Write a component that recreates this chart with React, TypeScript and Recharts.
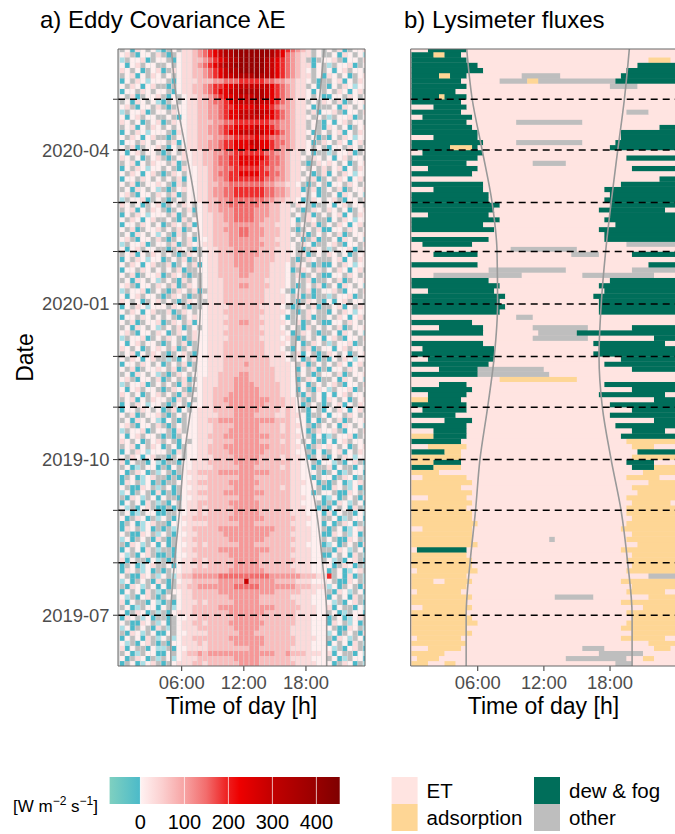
import React from "react";
import {
  ReferenceArea,
  ReferenceLine,
  Scatter,
  ScatterChart,
  XAxis,
  YAxis,
} from "recharts";

const FONT = '"Liberation Sans", Arial, Helvetica, sans-serif';

// days since 2019-06-01 at every month start (last = 2020-06-01)
const monthStarts = [0, 30, 61, 92, 122, 153, 183, 214, 245, 274, 305, 335, 366];
const monthLines = [30, 61, 92, 122, 153, 183, 214, 245, 274, 305, 335];
const dateLabels: Record<number, string> = {
  30: "2019-07",
  122: "2019-10",
  214: "2020-01",
  305: "2020-04",
};
const hourTicks = [6, 12, 18];
const hourLabels: Record<number, string> = { 6: "06:00", 12: "12:00", 18: "18:00" };

// grey sunrise / sunset curves
const sunDays = [0, 30, 61, 92, 122, 153, 183, 214, 245, 274, 305, 335, 364.7];
const sunriseHours = [4.95, 4.95, 5.3, 5.8, 6.2, 6.9, 7.5, 7.8, 7.75, 7.3, 6.4, 5.5, 5.0];
const sunsetHours = [20.0, 20.0, 19.6, 19.0, 18.1, 17.3, 17.0, 17.2, 17.6, 18.1, 18.7, 19.3, 19.75];

// a) eddy covariance, 48 half hours per row, 10 rows per month (oldest first)
// n/m negative, . missing, 0-9 rising lambda E
const ecCodes: Record<string, number> = {
  n: -40, m: -8, "0": 5, "1": 35, "2": 70, "3": 110, "4": 150,
  "5": 190, "6": 240, "7": 290, "8": 340, "9": 400,
};

const ecJun2019 = [
  "n.0nm01. n.011122 12222223 33322222 22111100 0n.10n.m",
  "0n.10n.m .0m01112 22222233 33322222 21111000 .0nm.00n",
  ".0nm.00n n0.01223 23333333 33333322 32221110 1n0..n0m",
  "1n0..n0m m.n00111 12222222 23322222 21111000 0m.n01.n",
  "0m.n01.n .n001112 12222233 33332222 22111000 n0.0n1.m",
  "n0.0n1.m 0.m01122 22222333 33332222 22111100 .n10m.0n",
  ".n10m.0n n0.00111 12222223 33222222 21111000 m0n.0.n1",
  "m0n.0.n1 .m.01112 22222233 33322222 21111000 0.nn10.m",
  "0.nn10.m 0n.01122 12222333 33332222 22111000 n10.m0n.",
  "n10.m0n. .n.00112 22222233 33322222 22111000 n.0nm01.",
];
const ecJul2019 = [
  "0n.10n.m .n011122 22222333 33332222 22111100 .0nm.00n",
  ".0nm.00n 0.m01122 22233333 33333322 22211100 1n0..n0m",
  "1n0..n0m n.n01112 12222233 33322222 22111000 0m.n01.n",
  "0m.n01.n .0.01122 22222333 33322222 21111000 n0.0n1.m",
  "n0.0n1.m n.001122 22233333 33333322 22211100 .n10m.0n",
  ".n10m.0n 0n.11223 33333344 44433333 33222111 m0n.0.n1",
  "m0n.0.n1 .n.01122 22233333 73333322 22111000 0.nn10.m",
  "0.nn10.m 0.m12233 33344444 44444333 33322211 5.0n1n.m",
  "n10.m0n. n.001122 22222333 33332222 22111000 n.0nm01.",
  "n.0nm01. .0n01112 12222233 33322222 21111000 0n.10n.m",
];
const ecAug2019 = [
  "1n0..n0m .n.01122 12222233 33322222 2211100. 0m.n01.n",
  "0m.n01.n n.n00112 22222333 33322222 2111100n n0.0n1.m",
  "n0.0n1.m ..n01122 22233333 33333222 2211100. .n10m.0n",
  ".n10m.0n 0n.00112 12222223 33222222 2111000n m0n.0.n1",
  "m0n.0.n1 .n.01122 22222333 33332222 2211100. 0.nn10.m",
  "0.nn10.m 0.n00112 22223333 33333222 2111100n n10.m0n.",
  "n10.m0n. n.m01122 22233333 33333322 2211100. n.0nm01.",
  "n.0nm01. .n000111 12222223 33222222 2111000n 0n.10n.m",
  "0n.10n.m 0.n01122 22222333 33332222 2211100. .0nm.00n",
  ".0nm.00n n..00112 12222233 33322222 2111000n 1n0..n0m",
];
const ecSep2019 = [
  "0m.n01.n n.n.0112 12222233 33322222 211100n. n0.0n1.m",
  "n0.0n1.m .n0.0112 22222333 33322222 211000.n .n10m.0n",
  ".n10m.0n 0..n0011 12222223 33222222 2111000n m0n.0.n1",
  "m0n.0.n1 n.n.0112 22223333 33332222 21100n.0 0.nn10.m",
  "0.nn10.m .0n.0011 12222233 33222221 211000.n n10.m0n.",
  "n10.m0n. n..00112 22222333 33322222 211100n. n.0nm01.",
  "n.0nm01. .n.n0011 12222223 33222222 21100n.0 0n.10n.m",
  "0n.10n.m 0.n.0112 22233333 33333222 211000.n .0nm.00n",
  ".0nm.00n .n0.0011 11222223 33222221 21100n.. 1n0..n0m",
  "1n0..n0m n..n0011 12222233 33322222 21100.n0 0m.n01.n",
];
const ecOct2019 = [
  "0.10n01. .n.0.001 11222233 33322221 2110n.0. n0.10m00",
  "n0.10m00 0.n1.001 12222333 33332222 2100.n0n .01n0.10",
  ".01n0.10 n.0n.001 12223333 33333222 2110n.10 10.0n.01",
  "10.0n.01 .0.n0.01 11222233 33322221 210.0n.n 0n01.00.",
  "0n01.00. n.n.0001 12223333 33333222 2110.n0n m.001n.0",
  "m.001n.0 0.n1.001 11222333 33322221 2100n.10 01.n00.1",
  "01.n00.1 .n.0.001 11222233 33322221 2110.n.0 .0n10.0m",
  ".0n10.0m n0.n.001 12233333 33333322 2100n0n. 0.1n.001",
  "0.1n.001 .n.0.001 11122233 33222211 2110n..0 n00.10.0",
  "n00.10.0 n.1n0.01 11222233 33322221 210.n0.n 0.10n01.",
];
const ecNov2019 = [
  "n0.10m00 .n.0.n00 11222333 33332222 110n.0.n .01n0.10",
  ".01n0.10 0.n1.0.0 11223333 33333222 110.n.0n 10.0n.01",
  "10.0n.01 .0.n1.00 11222333 33322221 10.n1.0n 0n01.00.",
  "0n01.00. n.10.n.0 11222233 33322221 10n0.n10 m.001n.0",
  "m.001n.0 .0.n1.00 11122233 33222221 10.0n.0. 01.n00.1",
  "01.n00.1 n.0.1n.0 11122233 32222211 10n.10n. .0n10.0m",
  ".0n10.0m .n.10.00 01122223 32222211 10.0.n.0 0.1n.001",
  "0.1n.001 0.1n.0.0 01112222 22222211 10n0.1n. n00.10.0",
  "n00.10.0 n.0.1n.0 01112222 32222111 10.1n.0. 0.10n01.",
  "0.10n01. .m.n0.10 01112222 22222111 0.0n.1n. n0.10m00",
];
const ecDec2019 = [
  ".01n0.10 .n.01.n0 01112222 22221111 0.1n0.n. 10.0n.01",
  "10.0n.01 0.1n.0.0 01112222 22221110 .n0.1n.0 0n01.00.",
  "0n01.00. n.0.1n.0 01112222 22221111 0.0n.10. m.001n.0",
  "m.001n.0 .10.n.10 01111222 22211110 1.n.0.0n 01.n00.1",
  "01.n00.1 0n.10.10 01112222 22221111 0n.10.n. .0n10.0m",
  ".0n10.0m .0.1n.0. 01111222 22211110 .0.n1.0. 0.1n.001",
  "0.1n.001 n.10.1n0 01112223 32221111 0.1n.0.n n00.10.0",
  "n00.10.0 .0.n.010 01111222 22211110 n.0.1n.. 0.10n01.",
  "0.10n01. .1n.10.0 01112222 22221111 0.n.10.. n0.10m00",
  "n0.10m00 0.10.n.. 01111222 22211110 .n.0.1n. .01n0.10",
];
const ecJan2020 = [
  "10.0n.01 .0.n.10. .1112222 22221111 0.n.10.n 0n01.00.",
  "0n01.00. n.10.n.. 01112222 22221111 0.1n.n.. m.001n.0",
  "m.001n.0 .n.10.1n .1112222 22221110 .n0.1n.0 01.n00.1",
  "01.n00.1 0.1n.10. 01112223 32222111 0.n.0.1n .0n10.0m",
  ".0n10.0m .0.n1.0. 01112222 22221111 0.0.1n.. 0.1n.001",
  "0.1n.001 n.10.n.. 01122223 32222111 0.1n.0.n n00.10.0",
  "n00.10.0 .0.1n..0 01122223 33222111 0n.10.1. 0.10n01.",
  "0.10n01. .1n.0.1n 01122233 33222111 0.10.n.n n0.10m00",
  "n0.10m00 n.0.1n.0 01122233 33222211 1.n.10.. .01n0.10",
  ".01n0.10 .0.n.10. 01122233 33322211 10.1n.0. 10.0n.01",
];
const ecFeb2020 = [
  "0n01.00. .n.10.n. 01122233 33322211 10.n.10. m.001n.0",
  "m.001n.0 0.1n.100 11222333 33332221 10.10n.. 01.n00.1",
  "01.n00.1 .n.0.1n0 01222333 33322211 1.0n.1n. .0n10.0m",
  ".0n10.0m 0.n1.0.0 11222334 43332221 10.1n.0. 0.1n.001",
  "0.1n.001 .0.1n.00 11223334 43332221 1.n.0.1n n00.10.0",
  "n00.10.0 n.10.1n0 11222333 33322211 10.0.1n. 0.10n01.",
  "0.10n01. .0.n1.00 11223344 44332221 10n.10.. n0.10m00",
  "n0.10m00 0.1n.0.0 11223344 44333221 1.0.1n.0 .01n0.10",
  ".01n0.10 .n.0.1n0 12233344 44333221 10.n.10. 10.0n.01",
  "10.0n.01 n.0.10.0 12233444 44433221 1.10.n.. 0n01.00.",
];
const ecMar2020 = [
  "m.001n.0 .n.0.001 12233444 44443322 110n.10. 01.n00.1",
  "01.n00.1 0.1n.001 12334455 55554433 2110.0n. .0n10.0m",
  ".0n10.0m .n.01001 12334455 55554433 211n.1n. 0.1n.001",
  "0.1n.001 0.n1.001 12233444 44443322 110.n.0. n00.10.0",
  "n00.10.0 .0.1n001 12334555 55554433 2110.1n. 0.10n01.",
  "0.10n01. n.10.001 12344556 66655443 211.0n.1 n0.10m00",
  "n0.10m00 .0.n1001 12334455 55554433 2110.0.1 .01n0.10",
  ".01n0.10 0.1n.011 22344556 66655443 211.n.10 10.0n.01",
  "10.0n.01 .n.01011 22344556 66665443 2110.10. 0n01.00.",
  "0n01.00. n.0.1011 22334455 55554433 211.0n.. m.001n.0",
];
const ecApr2020 = [
  "0.1n.001 .n0.0112 23345566 66766543 32110.0. n00.10.0",
  "n00.10.0 0.1n0112 23345566 67766544 32110n.1 0.10n01.",
  "0.10n01. .n.00112 22334455 55655443 3211.0n. n0.10m00",
  "n0.10m00 0.n10112 23345667 77776654 32110n.0 .01n0.10",
  ".01n0.10 .0.00112 23345566 66766543 3211.0.n 10.0n.01",
  "10.0n.01 n.100112 22334455 55555443 3211.0.n 0n01.00.",
  "0n01.00. .0.n0112 23345667 77776654 32110.0. m.001n.0",
  "m.001n.0 0.100112 23345667 77877654 3211.1n0 01.n00.1",
  "01.n00.1 .n.00112 23345566 66766543 32110n.. .0n10.0m",
  ".0n10.0m n.0.0112 23445677 77877654 3211.0.1 0.1n.001",
];
const ecMay2020 = [
  "0.1n.001 .n0.0112 23456677 77887654 32110.0n n00.10.0",
  "n00.10.0 0.n01122 34566778 88887654 32110n0. 0.10n01.",
  "0.10n01. .n.01122 34556677 77777654 3211.0n. n0.10m00",
  "n0.10m00 0.n01112 22334445 55554433 22110.n. .01n0.10",
  ".01n0.10 .0.01122 34567788 88988765 43211.0n 10.0n.01",
  "10.0n.01 n.101122 34567889 99998765 43210.0. 0n01.00.",
  "0n01.00. .0.01123 45678899 99998765 43211n0. m.001n.0",
  "m.001n.0 0.n01122 34567889 99998765 4321.n.0 01.n00.1",
  "01.n00.1 .n.01123 45678899 99999876 43211.0. .0n10.0m",
  ".0n10.0m n.0.1123 45678899 99999876 54321.0. 0.1n.001",
];

// b) lysimeter, E = ET, A = adsorption, D = dew & fog, O = other
const lyJun2019 = [
  "AAAEEEAA EEEEEEEE EEEEEEEE EEEEEEEE EEEEEOOO EEEEEEEE",
  "EAAAAEEE EEEEEEEE EEEEEEEE EEEEOOOO OOOOOOOE EEAAEEEE",
  "AAAAAAEE EEEEEEEE EEEEEEEE EEEEEEEE EEOOOOOO OOEEEEEE",
  "EEEAAAAA AEEEEEEE EEEEEEEE EEEEEEEO OOOEEEEE EEEEAAAE",
  "AAAAAAAA AAEEEEEE EEEEEEEE EEEEEEEE EEEEEEEE EEEAAAAA",
  "EAAAAAAA AEEEEEEE EEEEEEEE EEEEEEEE EEEEEEAA AAAAAAEE",
  "AAAAAAAA AAAEEEEE EEEEEEEE EEEEEEEE EEEEEEEE AAAAAAAA",
  "AAAAAAAA AAEEEEEE EEEEEEEE EEEEEEEE EEEEEEAA AAAAAAAA",
  "AAAAAAAA AAAAEEEE EEEEEEEE EEEEEEEE EEEEEEEA AAAAAAAA",
  "AAAAAAAA AAAEEEEE EEEEEEEE EEEEEEEE EEEEEEEE AAAAAAAA",
];
const lyJul2019 = [
  "AAAAAAAA AAEEEEEE EEEEEEEE EEEEEEEE EEEEEEEA AAAAAAAA",
  "EEAAAAAA AAAEEEEE EEEEEEEE EEEEEEEE EEEEEEEE EEAAAAAA",
  "AAAAAAAA AAEEEEEE EEEEEEEE EEEEEEEE EEEEEEAA AAAAAAAA",
  "AAAAAAAA AAAEEEEE EEEEEEEE EEOOOOOO OEEEEEEE EEEAAAAA",
  "EAAAAAAA AEEEEEEE EEEEEEEE EEEEEEEE EEEEEEEA AAAAAAEE",
  "AAAAAAAA AAEEEEEE EEEEEEEE EEEEEEEE EEEEEEEE AAAAAAAA",
  "AAAAEEAA AAAEEEEE EEEEEEEE EEEEEEEE EEEEEEAA AAAAAAAA",
  "AAAAAAAA AAEEEEEE EEEEEEEE EEEEEEEE EEEEEEEE EEEOOOOO",
  "EAAAAAAA AAAAEEEE EEEEEEEE EEEEEEEE EEEEEEEA AAAAAAAA",
  "AAAAAAAA AAAEEEEE EEEEEEEE EEEEEEEE EEEEEEEE AAAAAAAA",
];
const lyAug2019 = [
  "AAAAAAAA AAAEEEEE EEEEEEEE EEEEEEEE EEEEEEEA AAAAAAAA",
  "AAAAAAAA AAEEEEEE EEEEEEEE EEEEEEEE EEEEEEEE AAAAAAAA",
  "EDDDDDDD DDEEEEEE EEEEEEEE EEEEEEEE EEEEEEAA AAAAAAAA",
  "AAAAAAAA AAAAEEEE EEEEEEEE EEEEEEEE EEEEEEEE EAAAAAAA",
  "AAAAAAAA AAAEEEEE EEEEEEEE EOEEEEEE EEEEEEEA AAAAAAAA",
  "AAAAAAAA AAAEEEEE EEEEEEEE EEEEEEEE EEEEEEEE AAAAAAAA",
  "EEAAAAAA AAAEEEEE EEEEEEEE EEEEEEEE EEEEEEAA AAAAAAAA",
  "AAAAAAAA AAAAEEEE EEEEEEEE EEEEEEEE EEEEEEEA AAAAAAAA",
  "AAAAAAAA AAAEEEEE EEEEEEEE EEEEEEEE EEEEEEEE AAAAAAAA",
  "AAAAAAAA AAAEEEEE EEEEEEEE EEEEEEEE EEEEEEEA AAAAAAAA",
];
const lySep2019 = [
  "AAAAAAAA AAEEEEEE EEEEEEEE EEEEEEEE EEEEEEEA AAAAAAAA",
  "AAAAAAAA AAAEEEEE EEEEEEEE EEEEEEEE EEEEEEEE AAAAAAAE",
  "EEEAAAAA AAEEEEEE EEEEEEEE EEEEEEEE EEEEEEEA AAAAAAAA",
  "AAAAAAAA AAAEEEEE EEEEEEEE EEEEEEEE EEEEEEEE EAAAAAAA",
  "AAAAAAAA AEEEEEEE EEEEEEEE EEEEEEEE EEEEEEEE AAAAAAAA",
  "AAAAAAAA AAAEEEEE EEEEEEEE EEEEEEEE EEEEEEEE EEEAAAAA",
  "EEAAAAAA AAEEEEEE EEEEEEEE EEEEEEEE EEEEEEEA AAAAAEEE",
  "AAAAAEEE EEEEEEEE EEEEEEEE EEEEEEEE EEEEEEEE EEAAAAAA",
  "DDDDAAAA AEEEEEEE EEEEEEEE EEEEEEEE EEEEEEEE DDDDAAAA",
  "AAAADDDD DEEEEEEE EEEEEEEE EEEEEEEE EEEEEEED DDDDEEEE",
];
const lyOct2019 = [
  "AAAAAAAA AEEEEEEE EEEEEEEE EEEEEEEE EEEEEEEE AAAAAAAA",
  "DDDDDDAA AEEEEEEE EEEEEEEE EEEEEEEE EEEEEEEE EDDDDDDD",
  "EEEAAAAA AAEEEEEE EEEEEEEE EEEEEEEE EEEEEEEE AAAAEEEE",
  "DDDDDDDD DEEEEEEE EEEEEEEE EEEEEEEE EEEEEEEA AAAAAAAA",
  "AAAADDDD DDEEEEEE EEEEEEEE EEEEEEEE EEEEEEDD DDDDDDDD",
  "EEEEDDDD DDEEEEEE EEEEEEEE EEEEEEEE EEEEEEEE DDDDDDEE",
  "DDDDDDDD DDEEEEEE EEEEEEEE EEEEEEEE EEEEEDDD DDDDDDDD",
  "EEEEEEDD DDDEEEEE EEEEEEEE EEEEEEEE EEEEEEEE EEEEDDDD",
  "DDDDDDDD EEEEEEEE EEEEEEEE EEEEEEEE EEEEDDDD DDDDDDDD",
  "EEDDDDDD DDEEEEEE EEEEEEEE EEEEEEEE EEEEEEEE DDDDDDDD",
];
const lyNov2019 = [
  "DDDDDDDD DDEEEEEE EEEEEEEE EEEEEEEE EEEEDDDD DDDDDDDD",
  "AAADDDDD DEEEEEEE EEEEEEEE EEEEEEEE EEEEEEEE EEEEDDDD",
  "EEEDDDDD DDEEEEEE EEEEEEEE EEEEEEEE EEDDDDDD DDDDDDEE",
  "DDDDDDDD DDDEEEEE EEEEEEEE EEEEEEEE EEEEEEEE DDDDDDDD",
  "EEEEEDDD DDEEEEEE EEEEEEEE EEEEEEEE EEEDDDDD DDDDDDDD",
  "EEEEEEEE EEEEEEEE AAAAAAAA AAAAAAEE EEEEEEEE EEEEEEEE",
  "DDDDDDDD DDDDOOOO OOOOOOOO OEEEEEEE EEEEEEEE EEEEEEEE",
  "EEEEEDDD DDDDOOOO OOOOOOOO EEEEEEEE EEEEEEEE DDDDDDDD",
  "DDDDDDDD DDDDDDEE EEEEEEEE EEEEEEEE EEEDDDDD DDDDDDDD",
  "EEEDDDDD DDDDDDDE EEEEEEEE EEEEEEEE EEEEEEDD DDDDDDDD",
];
const lyDec2019 = [
  "DDDDDDDD DDDDDDDE EEEEEEEE EEEEEEEE EDDDDDDD DDDDDDDD",
  "EEDDDDDD DDDDDDDE EEEEEEEE EEEEEEEE EEDDDDDD DDDDDDDD",
  "DDDDDDDD DDDDDEEE EEEEEEEE EEEEEEEE EDDDDDDD DDDDDDEE",
  "EEEEEEEE EEEEEEEE EEEEEEOO OOOOOOOO EEEEEEEE EEEEDDDD",
  "DDDDDDDD DDDDDEEE EEEEEEEO OOOOOODD DDDDDDDD DDDDDDDD",
  "EEEEEDDD DDDDDEEE EEEEEEOO OOOOOOOO EEEEEEEE DDDDDDDD",
  "DDDDDDDD DDDEEEEE EEEEEEEE EEEEEEEE EEEEEEEE EEEEEEEE",
  "EEEEEEEE EEEEEEEE EEEOOOEE EEEEEEEE EEEEEEEE EEEEEEEE",
  "DDDDDDDD DDDDDDDD EEEEEEEE EEEEEEEE EEDDDDDD DDDDDDDD",
  "DDDDDDDD DDDDDDDD DEEEEEEE EEEEEEEE EEDDDDDD DDDDDDDD",
];
const lyJan2020 = [
  "DDDDDDDD DDDDDDDD EEEEEEEE EEEEEEEE EEDDDDDD DDDDDDDD",
  "DDDDDDDD DDDDDDDD DEEEEEEE EEEEEEEE EDDDDDDD DDDDDDDD",
  "EEEDDDDD DDDDDDDE EEEEEEEE EEEEEEEE EEEDDDDD DDDDDDDD",
  "DDDDDDDD DDDDDDDD EEEEEEEE EEEEEEEE EEDDDDDD DDDDDDDD",
  "DDDDDDDD DDDDDDEE EEEEEEEE EEEEEEEE EEEEDDDD DDDDDDDD",
  "EEEEOOOO OOOOOOOO OOOOEEEE EEEEEEEO OOOOOOOO OOOOEEEE",
  "EEEEEEEE EEEEEEOO OOOOOOOO OOOOEEEE EEEEEEEE OOOOOOOO",
  "DDDDDDDD DDDDEEEE EEEEEEEE EEEEEEEE EEEEEEEE EEEDDDDD",
  "EEEEEEEE EEEEEEEE EEEEEEEE EEEEEEEE EEEEEEEE EEEEEEEE",
  "EEEEDDDD DDDDEEEE EEEEEEEE EEEEEOOO OOEEEEEE DDDDDDDD",
];
const lyFeb2020 = [
  "EEEEEEEE EEEEEEEE EEOOOOOO OOOOOOEE EEEEEEEE EEEEEEEE",
  "EEDDDDDD DDDEEEEE EEEEEEEE EEEEEEEE EEEEEEEO OOOOOOOO",
  "DDDDDDDD DDDDDDEE EEEEEEEE EEEEEEEE EEEDDDDD DDDDDDDD",
  "EEEEEEEE EEEEEEEE EEEEEEEE EEEEEEEE EEEDDDDD DDDDDDDD",
  "DDDDDDDD DDDDDDDE EEEEEEEE EEEEEEEE EEDDDDDD DDDDDDDD",
  "DDDDDDDD DDDDDEEE EEEEEEEE EEEEEEEE EEEEEDDD DDDDDDDD",
  "DDDDDDDD DDDDDDDD EEEEEEEE EEEEEEEE EEEDDDDD DDDDDDDD",
  "EEEDDDDD DDDDDDEE EEEEEEEE EEEEEEEE EEEEDDDD DDDDDDDD",
  "DDDDDDDD DDDDDDDE EEEEEEEE EEEEEEEE EEDDDDDD DDDDDDEE",
  "DDDDDDDD DDDDDDDD EEEEEEEE EEEEEEEE EEEEDDDD DDDDDDDD",
];
const lyMar2020 = [
  "DDDDDDDD DDDDDDEE EEEEEEEE EEEEEEEE EEEDDDDD DDDDDDDD",
  "DDDDDDDD DDDDDDEE EEEEEEEE EEEEEEEE EEEEDDDD DDDDDDDD",
  "EEEEDDDD DDDDDEEE EEEEEEEE EEEEEEEE EEEDDDDD DDDDDDDD",
  "DDDDDDDD DDDDDEEE EEEEEEEE EEEEEEEE EEEEEEDD DDDDDDDD",
  "EEEEEEEE EEEEEEEE EEEEEEEE EEEEEEEE EEEEEEEE EEEEEDDD",
  "DDDDDDDD DDDEEEEE EEEEEEEE EEEEEEEE EEEEEEEE EEEEEEEE",
  "EEEDDDDD DDDDEEEE EEEEEEEE EEEEEEEE EEEEEEEE DDDDDDDD",
  "DDDDDDDD DDEEEEEE EEEEEEOO OOOOEEEE EEEEEEEE EEEEEEEE",
  "DDDDDDDD DDDDEEEE EEEEEEEE EEEEEEEE EEEEEEED DDDDDDDD",
  "EEDDDDDD DDDDDEEE EEEEEEEE EEEEEEEE EEEEEEEE EEEEEEEE",
];
const lyApr2020 = [
  "DDDDDDDA AAADEEEE EEEEEEEE EEEEEEEE EEEEDDDD DDDDDDDD",
  "DDDDDDDD DDDDDEEE EEEOOOOO OOOOOOOE EEEEEDDD DDDDDDDD",
  "EEEEDDDD DDDDEEEE EEEEEEEE EEEEEEEE EEEEEEDD DDDDDDDD",
  "DDDDDDDD DDDDEEEE EEEEEEEE EEEEEEEE EEEEEEDD DDDDDDDD",
  "DDDDDDDD DDDEEEEE EEEEEEEE EEEEEEEE EEEEEEEE EEEEEDDD",
  "DDDDDDDD DDEEEEEE EEEOOOOO OOOOOOOE EEEEEEEE EEEEEEEE",
  "EEDDDDDD DDDEEEEE EEEEEEEE EEEEEEEE EEEEEEEE EEEEEEEE",
  "DDDDDDDD DEEEEEEE EEEEEEEE EEEEEEEE EEEEEEEO OOOEEEEE",
  "EEEEDDDD DDEEEEEE EEEEEEEE EEEEEEEE EEEEEEEE EEEEEEEE",
  "DDDDDDDD DEEEEEEE EEEEEEEE EEEEEEEE EEEEEEEE EEEEEEEE",
];
const lyMay2020 = [
  "DDDDDADD DDEEEEEE EEEEEEEE EEEEEEEE EEEEEEEE EEEEEEEE",
  "DDDDDDDD EEEEEEEE EEEEEEEE EEEEEEEE EEEEEEEE EEEEEEEE",
  "DDDDDDDD DDEEEEEE EEEEEEEE EEEEEEEE EEEEOOOO OEEEEEEE",
  "DDDDDDDD DEEEEEEE OOOOOAAO OOOOOOOO OOOOODDD DDDDDDDD",
  "DDDDDAAD DDEEEEEE EEEEOOOO OOOEEEEE EEEEEEDD DDDDDDDD",
  "DDDDDDDD DDDDDEEE EEEEEEEE EEEEEEEE EEEEEEED DDDDDDDD",
  "DDDDDDDD DDDDEEEE EEEEEEEE EEEEEEEE EEEEEEEE EDDDDDDD",
  "DDDDDDDD DDEEEEEE EEEEEEEE EEEEEEEE EEEEEEEE EEEAAAAE",
  "DDDDAADD DEEEEEEE EEEEEEEE EEEEEEEE EEEEEEEE EEEEEEEE",
  "EEEDDDDD DDEEEEEE EEEEEEEE EEEEEEEE EEEEEEEE EEEEEEEE",
];

const ecMonths = [ecJun2019, ecJul2019, ecAug2019, ecSep2019, ecOct2019, ecNov2019,
  ecDec2019, ecJan2020, ecFeb2020, ecMar2020, ecApr2020, ecMay2020];
const lyMonths = [lyJun2019, lyJul2019, lyAug2019, lySep2019, lyOct2019, lyNov2019,
  lyDec2019, lyJan2020, lyFeb2020, lyMar2020, lyApr2020, lyMay2020];

const lyColors: Record<string, string> = {
  E: "#ffe4e1",
  A: "#fed695",
  D: "#006e5a",
  O: "#bebebe",
};
const lyLegend = [
  { key: "E", label: "ET" },
  { key: "A", label: "adsorption" },
  { key: "D", label: "dew & fog" },
  { key: "O", label: "other" },
];
const cbTicks = [0, 100, 200, 300, 400];

// fill ramp for lambda E >= 0
const rampStops: [number, string][] = [
  [0, "#fff2f2"],
  [50, "#fbcfcf"],
  [100, "#f7a3a3"],
  [150, "#f26c6c"],
  [200, "#ee1c1c"],
  [225, "#ee0000"],
  [300, "#c20000"],
  [400, "#980000"],
  [450, "#800000"],
];

// geometry
const Y_DOM: [number, number] = [0, 364.7];
const Y_TOP = 49;
const Y_BOT = 666;
const A_DOM: [number, number] = [-0.15, 23.7];
const A_LEFT = 118;
const A_RIGHT = 365;
const B_DOM: [number, number] = [-0.08, 24.0];
const B_LEFT = 410.7;
const B_RIGHT = 676.2;
const B_OFFSET = 380;
const pxDay = (Y_BOT - Y_TOP) / (Y_DOM[1] - Y_DOM[0]);
const pxHourA = (A_RIGHT - A_LEFT) / (A_DOM[1] - A_DOM[0]);
const pxHourB = (B_RIGHT - B_LEFT) / (B_DOM[1] - B_DOM[0]);

type Row = { y0: number; y1: number; cells: string };

function buildRows(months: string[][]): Row[] {
  const rows: Row[] = [];
  months.forEach((list, m) => {
    const d0 = monthStarts[m];
    const step = (monthStarts[m + 1] - d0) / list.length;
    list.forEach((s, r) => {
      let cells = s.replace(/\s+/g, "");
      while (cells.length < 48) cells += cells[cells.length - 1];
      rows.push({ y0: d0 + r * step, y1: d0 + (r + 1) * step, cells: cells.slice(0, 48) });
    });
  });
  return rows;
}

const ecPoints = buildRows(ecMonths).flatMap((row) =>
  Array.from(row.cells).map((ch, k) => ({
    x: k * 0.5 + 0.25,
    y: (row.y0 + row.y1) / 2,
    dd: row.y1 - row.y0,
    v: ch in ecCodes ? ecCodes[ch] : null,
  }))
);

const lyPoints = buildRows(lyMonths).flatMap((row) => {
  const out: { x: number; y: number; dd: number; len: number; c: string }[] = [];
  let start = 0;
  for (let k = 1; k <= 48; k++) {
    if (k === 48 || row.cells[k] !== row.cells[start]) {
      const len = k - start;
      out.push({
        x: start * 0.5 + len * 0.25,
        y: (row.y0 + row.y1) / 2,
        dd: row.y1 - row.y0,
        len,
        c: row.cells[start],
      });
      start = k;
    }
  }
  return out;
});

const sunrise = sunDays.map((d, i) => ({ x: sunriseHours[i], y: d }));
const sunset = sunDays.map((d, i) => ({ x: sunsetHours[i], y: d }));

function hex(c: string) {
  return [1, 3, 5].map((i) => parseInt(c.slice(i, i + 2), 16));
}
function ecColor(v: number | null) {
  if (v === null) return "#bebebe";
  if (v < -20) return "#4bb9c9";
  if (v < 0) return "#aadfe6";
  const t = Math.min(v, 450);
  let i = 0;
  while (i < rampStops.length - 2 && t > rampStops[i + 1][0]) i++;
  const [va, ca] = rampStops[i];
  const [vb, cb] = rampStops[i + 1];
  const f = (t - va) / (vb - va);
  const a = hex(ca);
  const b = hex(cb);
  const rgb = a.map((ch, j) => Math.round(ch + (b[j] - ch) * f));
  return `rgb(${rgb[0]},${rgb[1]},${rgb[2]})`;
}

const EcCell = (props: any) => {
  const { cx, cy } = props;
  const p = props.payload ?? props;
  if (cx == null || cy == null) return <g />;
  const w = 0.5 * pxHourA;
  const h = p.dd * pxDay;
  return (
    <rect
      x={cx - w / 2 + 0.35}
      y={cy - h / 2 - 0.15}
      width={w - 0.7}
      height={h + 0.3}
      fill={ecColor(p.v)}
    />
  );
};

const LyCell = (props: any) => {
  const { cx, cy } = props;
  const p = props.payload ?? props;
  if (cx == null || cy == null) return <g />;
  const w = p.len * 0.5 * pxHourB;
  const h = p.dd * pxDay;
  return (
    <rect
      x={cx - w / 2 - 0.15}
      y={cy - h / 2 - 0.2}
      width={w + 0.3}
      height={h + 0.4}
      fill={lyColors[p.c]}
    />
  );
};

const NoDot = () => <g />;

const tickStyle = { fill: "#4d4d4d", fontSize: 18.4, fontFamily: FONT };
const titleStyle = { fill: "#000", fontSize: 23, fontFamily: FONT };

function Panel({ which }: { which: "a" | "b" }) {
  const isA = which === "a";
  const dom = isA ? A_DOM : B_DOM;
  const width = isA ? 375 : 310;
  const margin = isA
    ? { top: Y_TOP, right: width - A_RIGHT, bottom: 0, left: 0 }
    : { top: Y_TOP, right: width - (B_RIGHT - B_OFFSET), bottom: 0, left: B_LEFT - B_OFFSET };
  return (
    <ScatterChart width={width} height={730} margin={margin}>
      <XAxis
        type="number"
        dataKey="x"
        domain={dom}
        allowDataOverflow
        ticks={hourTicks}
        interval={0}
        tickFormatter={(h: number) => hourLabels[h] ?? ""}
        height={64}
        tickSize={5}
        tickMargin={5}
        axisLine={false}
        tickLine={{ stroke: "#333" }}
        tick={tickStyle}
        label={{ value: "Time of day [h]", position: "insideBottom", offset: 16, ...titleStyle }}
      />
      <YAxis
        type="number"
        dataKey="y"
        domain={Y_DOM}
        allowDataOverflow
        hide={!isA}
        ticks={monthLines}
        interval={0}
        tickFormatter={(d: number) => dateLabels[d] ?? ""}
        width={A_LEFT}
        tickSize={5}
        tickMargin={3.5}
        axisLine={false}
        tickLine={{ stroke: "#333" }}
        tick={tickStyle}
        label={{
          value: "Date",
          angle: -90,
          position: "insideLeft",
          offset: 25,
          style: { textAnchor: "middle" },
          ...titleStyle,
        }}
      />
      <ReferenceArea
        x1={dom[0]}
        x2={dom[1]}
        y1={Y_DOM[0]}
        y2={Y_DOM[1]}
        fill={isA ? "#dddddd" : lyColors.E}
        fillOpacity={1}
        stroke="none"
        zIndex={-100}
      />
      <Scatter
        data={isA ? ecPoints : lyPoints}
        shape={isA ? EcCell : LyCell}
        isAnimationActive={false}
        zIndex={600}
      />
      <Scatter
        data={sunrise}
        shape={NoDot}
        line={{ stroke: "#999999", strokeWidth: 1.6 }}
        lineJointType="monotoneY"
        isAnimationActive={false}
        zIndex={650}
      />
      <Scatter
        data={sunset}
        shape={NoDot}
        line={{ stroke: "#999999", strokeWidth: 1.6 }}
        lineJointType="monotoneY"
        isAnimationActive={false}
        zIndex={650}
      />
      {monthLines.map((d) => (
        <ReferenceLine
          key={d}
          y={d}
          stroke="#000"
          strokeWidth={1.5}
          strokeDasharray="7 5"
          zIndex={700}
        />
      ))}
      <ReferenceArea
        x1={dom[0]}
        x2={dom[1]}
        y1={Y_DOM[0]}
        y2={Y_DOM[1]}
        fill="none"
        stroke="#666"
        strokeWidth={1}
        zIndex={710}
      />
    </ScatterChart>
  );
}

const CB_X0 = 140.4;
const CB_PX = 0.44;
const CB_MIN = -70;
const CB_MAX = 453;

function Legends() {
  const x0 = CB_X0 + CB_MIN * CB_PX;
  const x1 = CB_X0 + CB_MAX * CB_PX;
  return (
    <svg width={675} height={834} style={{ position: "absolute", left: 0, top: 0, pointerEvents: "none" }}>
      <defs>
        <linearGradient id="neg" x1="0" x2="1" y1="0" y2="0">
          <stop offset="0" stopColor="#7fd0c0" />
          <stop offset="1" stopColor="#4bbac9" />
        </linearGradient>
        <linearGradient id="pos" x1="0" x2="1" y1="0" y2="0">
          {rampStops.map(([v, c]) => (
            <stop key={v} offset={v / CB_MAX} stopColor={c} />
          ))}
          <stop offset="1" stopColor="#800000" />
        </linearGradient>
      </defs>
      <text x={40} y={28} fontSize={24} fontFamily={FONT} fill="#000">
        a) Eddy Covariance λE
      </text>
      <text x={404} y={28} fontSize={24} fontFamily={FONT} fill="#000">
        b) Lysimeter fluxes
      </text>

      <text x={13} y={812} fontSize={17} fontFamily={FONT} fill="#000">
        [W m
        <tspan dy={-7} fontSize={12}>−2</tspan>
        <tspan dy={7}> s</tspan>
        <tspan dy={-7} fontSize={12}>−1</tspan>
        <tspan dy={7}>]</tspan>
      </text>
      <rect x={x0} y={777} width={CB_X0 - x0} height={27} fill="url(#neg)" />
      <rect x={CB_X0} y={777} width={x1 - CB_X0} height={27} fill="url(#pos)" />
      {cbTicks.map((t) => (
        <line
          key={t}
          x1={CB_X0 + t * CB_PX}
          x2={CB_X0 + t * CB_PX}
          y1={777}
          y2={804}
          stroke="#fff"
          strokeOpacity={0.7}
          strokeWidth={1}
        />
      ))}
      {cbTicks.map((t) => (
        <text
          key={t}
          x={CB_X0 + t * CB_PX}
          y={829}
          textAnchor="middle"
          fontSize={20}
          fontFamily={FONT}
          fill="#000"
        >
          {t}
        </text>
      ))}

      {lyLegend.map((e, i) => {
        const col = i < 2 ? 0 : 1;
        const row = i % 2;
        const sx = col === 0 ? 391.6 : 534;
        const sy = 777 + row * 27;
        return (
          <g key={e.key}>
            <rect x={sx} y={sy} width={26} height={27} fill={lyColors[e.key]} />
            <text x={sx + 35} y={sy + 21} fontSize={20.5} fontFamily={FONT} fill="#000">
              {e.label}
            </text>
          </g>
        );
      })}
    </svg>
  );
}

export default function App() {
  return (
    <div
      style={{
        position: "relative",
        width: 675,
        height: 834,
        overflow: "hidden",
        background: "#fff",
        fontFamily: FONT,
      }}
    >
      <style>{"body{margin:0;}"}</style>
      <div style={{ position: "absolute", left: 0, top: 0 }}>
        <Panel which="a" />
      </div>
      <div style={{ position: "absolute", left: B_OFFSET, top: 0 }}>
        <Panel which="b" />
      </div>
      <Legends />
    </div>
  );
}
